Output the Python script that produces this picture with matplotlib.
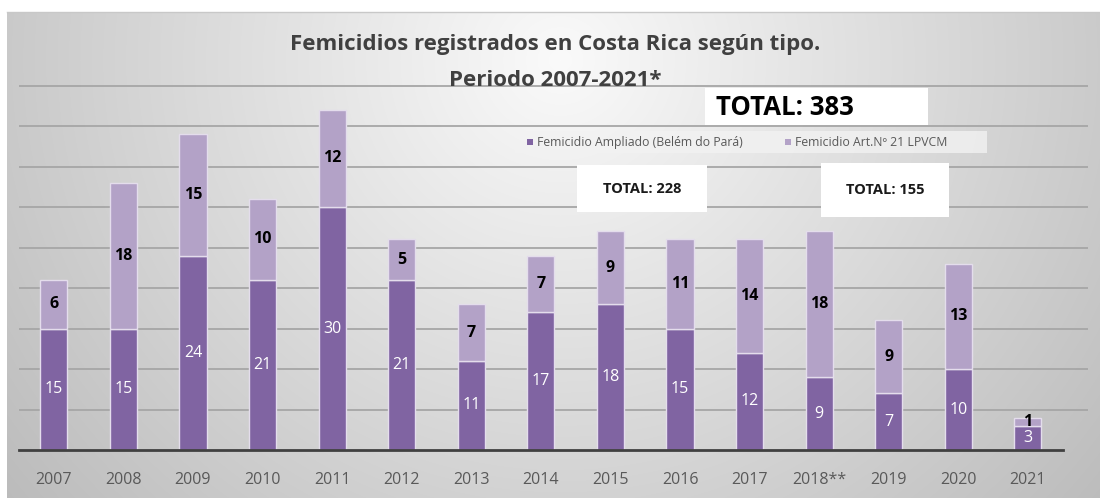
import numpy as np
import matplotlib
matplotlib.use("Agg")
import matplotlib.pyplot as plt
from matplotlib.patches import Rectangle

years = ["2007", "2008", "2009", "2010", "2011", "2012", "2013", "2014",
         "2015", "2016", "2017", "2018**", "2019", "2020", "2021"]
ampliado = [15, 15, 24, 21, 30, 21, 11, 17, 18, 15, 12, 9, 7, 10, 3]
art21 = [6, 18, 15, 10, 12, 5, 7, 7, 9, 11, 14, 18, 9, 13, 1]
series_names = ["Femicidio Ampliado (Belém do Pará)", "Femicidio Art.Nº 21 LPVCM"]
title_text = "Femicidios registrados en Costa Rica según tipo.\nPeriodo 2007-2021*"
total_all = "TOTAL: 383"
total_amp = "TOTAL: 228"
total_art = "TOTAL: 155"

FONT = ["Open Sans", "DejaVu Sans"]
plt.rcParams['font.family'] = FONT

W, H = 1100, 498
fig = plt.figure(figsize=(W / 100, H / 100), dpi=100)

# background gradient
bg = fig.add_axes([0, 0, 1, 1], zorder=-5)
yy, xx = np.mgrid[0:H, 0:W]
r = np.sqrt(((xx - 560) / 640.0) ** 2 + ((yy - 60) / 620.0) ** 2)
val = np.clip(250 - 56 * r, 185, 250) / 255.0
val[:12, :] = 1.0
val[:, :7] = 1.0
img = np.dstack([val, val, val])
bg.imshow(img, aspect='auto', extent=[0, W, H, 0])
bg.set_xlim(0, W)
bg.set_ylim(H, 0)
bg.axis('off')
bg.plot([7, W], [12, 12], color='#c8c8c8', lw=1)

px_per_unit = 8.1
ax_left, ax_right, ax_top, ax_bottom = 19, 1088, 12, 450
ax = fig.add_axes([ax_left / W, (H - ax_bottom) / H, (ax_right - ax_left) / W, (ax_bottom - ax_top) / H])
ax.patch.set_alpha(0)
ymax = (ax_bottom - ax_top) / px_per_unit
spacing = 69.6
xmax = 14.5 + (ax_right - (53.5 + 14.5 * spacing)) / spacing
ax.set_xlim(-0.5, xmax)
ax.set_ylim(0, ymax)

for g in range(5, 50, 5):
    ax.plot([-0.5, xmax], [g, g], color='#a6a6a6', lw=1.3, zorder=0)
ax.plot([-0.5, 14.5], [0, 0], color='#404040', lw=2, zorder=3, clip_on=False)

x = np.arange(len(years))
c1, c2 = '#8064A2', '#B3A2C7'
ax.bar(x, ampliado, width=0.39, color=c1, edgecolor='#E4DDEC', lw=1, zorder=2)
ax.bar(x, art21, width=0.39, bottom=ampliado, color=c2, edgecolor='#E4DDEC', lw=1, zorder=2)

for i in range(len(years)):
    ax.text(x[i], ampliado[i] / 2, str(ampliado[i]), ha='center', va='center',
            color='white', fontsize=11.5, zorder=4)
    ax.text(x[i], ampliado[i] + art21[i] / 2, str(art21[i]), ha='center', va='center',
            color='black', fontsize=11.5, fontweight='bold', zorder=4)

ax.set_xticks(x)
ax.set_xticklabels(years, color='#595959', fontsize=11.5)
ax.tick_params(axis='x', length=0, pad=16)
ax.set_yticks([])
for s in ax.spines.values():
    s.set_visible(False)

# overlay texts in pixel coordinates
ov = fig.add_axes([0, 0, 1, 1], zorder=10)
ov.set_xlim(0, W)
ov.set_ylim(H, 0)
ov.axis('off')
ov.patch.set_alpha(0)

ov.text(555, 44, title_text.split("\n")[0], ha='center', va='center', fontsize=16,
        fontweight='bold', color='#404040')
ov.text(555, 80, title_text.split("\n")[1], ha='center', va='center', fontsize=16,
        fontweight='bold', color='#404040')

ov.add_patch(Rectangle((705, 88), 223, 37, facecolor='white', edgecolor='none'))
ov.text(716, 107, total_all, ha='left', va='center', fontsize=18.5, fontweight='bold', color='black')

ov.add_patch(Rectangle((515, 131), 472, 22, facecolor='#f2f2f2', edgecolor='none', alpha=0.8))
ov.add_patch(Rectangle((527, 139), 6, 6, facecolor=c1, edgecolor='none'))
ov.text(537, 142, series_names[0], ha='left', va='center', fontsize=8.8, color='#595959')
ov.add_patch(Rectangle((785, 139), 6, 6, facecolor=c2, edgecolor='none'))
ov.text(795, 142, series_names[1], ha='left', va='center', fontsize=8.8, color='#595959')

ov.add_patch(Rectangle((577, 165), 130, 47, facecolor='white', edgecolor='none'))
ov.text(642, 189, total_amp, ha='center', va='center', fontsize=10.5, fontweight='bold', color='#1a1a1a')
ov.add_patch(Rectangle((821, 163), 128, 54, facecolor='white', edgecolor='none'))
ov.text(885, 190, total_art, ha='center', va='center', fontsize=10.5, fontweight='bold', color='#1a1a1a')

fig.savefig('out.png', dpi=100)
